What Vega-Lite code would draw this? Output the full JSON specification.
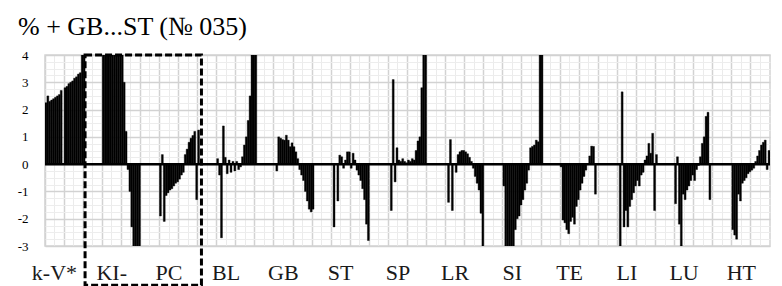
{
  "$schema": "https://vega.github.io/schema/vega-lite/v6.json",
  "width": 725,
  "height": 191,
  "autosize": {"type": "none"},
  "padding": {"left": 45, "top": 55, "right": 12, "bottom": 40},
  "background": "white",
  "title": {"text": "% + GB...ST (№ 035)", "anchor": "start", "frame": "group", "font": "Liberation Serif", "fontSize": 26, "fontWeight": "normal", "color": "black", "dx": -27, "offset": 9},
  "config": {"font": "Liberation Serif", "view": {"stroke": "#d4d4d4", "strokeWidth": 1.5}, "axis": {"domain": false, "ticks": false, "labelOverlap": false}},
  "resolve": {"axis": {"y": "independent"}},
  "data": {"values": [
{"i":0,"v":2.25},{"i":1,"v":2.5},{"i":2,"v":2.3},{"i":3,"v":2.35},{"i":4,"v":2.4},{"i":5,"v":2.45},{"i":6,"v":2.5},{"i":7,"v":2.55},{"i":8,"v":2.7},{"i":9,"v":0},
{"i":10,"v":2.8},{"i":11,"v":2.85},{"i":12,"v":2.95},{"i":13,"v":3.0},{"i":14,"v":3.05},{"i":15,"v":3.15},{"i":16,"v":3.2},{"i":17,"v":3.3},{"i":18,"v":3.35},{"i":19,"v":4.5},
{"i":20,"v":4.5},{"i":21,"v":0},{"i":22,"v":0},{"i":23,"v":0},{"i":24,"v":0},{"i":25,"v":0},{"i":26,"v":0},{"i":27,"v":0},{"i":28,"v":0},{"i":29,"v":0},
{"i":30,"v":4.5},{"i":31,"v":4.5},{"i":32,"v":4.5},{"i":33,"v":4.5},{"i":34,"v":4.5},{"i":35,"v":4.5},{"i":36,"v":4.5},{"i":37,"v":4.5},{"i":38,"v":4.5},{"i":39,"v":4.5},
{"i":40,"v":4.5},{"i":41,"v":3.0},{"i":42,"v":1.2},{"i":43,"v":-0.2},{"i":44,"v":-1.0},{"i":45,"v":-2.3},{"i":46,"v":-3.2},{"i":47,"v":-3.2},{"i":48,"v":-3.2},{"i":49,"v":-3.2},
{"i":50,"v":0},{"i":51,"v":0},{"i":52,"v":0},{"i":53,"v":0},{"i":54,"v":0},{"i":55,"v":0},{"i":56,"v":0},{"i":57,"v":0},{"i":58,"v":0},{"i":59,"v":0},
{"i":60,"v":-1.9},{"i":61,"v":0.35},{"i":62,"v":-2.1},{"i":63,"v":-1.15},{"i":64,"v":-1.05},{"i":65,"v":-0.95},{"i":66,"v":-0.9},{"i":67,"v":-0.8},{"i":68,"v":-0.7},{"i":69,"v":-0.65},
{"i":70,"v":-0.55},{"i":71,"v":-0.4},{"i":72,"v":-0.3},{"i":73,"v":0.35},{"i":74,"v":0.55},{"i":75,"v":0.8},{"i":76,"v":0.95},{"i":77,"v":1.05},{"i":78,"v":1.2},{"i":79,"v":-1.3},
{"i":80,"v":1.25},{"i":81,"v":0},{"i":82,"v":0},{"i":83,"v":0},{"i":84,"v":0},{"i":85,"v":0},{"i":86,"v":0},{"i":87,"v":0},{"i":88,"v":0},{"i":89,"v":0},
{"i":90,"v":0.2},{"i":91,"v":-0.4},{"i":92,"v":-2.7},{"i":93,"v":1.4},{"i":94,"v":0.25},{"i":95,"v":-0.35},{"i":96,"v":0.15},{"i":97,"v":-0.3},{"i":98,"v":0.1},{"i":99,"v":-0.25},
{"i":100,"v":0.1},{"i":101,"v":-0.2},{"i":102,"v":-0.1},{"i":103,"v":0.27},{"i":104,"v":0.7},{"i":105,"v":1.0},{"i":106,"v":1.6},{"i":107,"v":2.5},{"i":108,"v":4.5},{"i":109,"v":4.5},
{"i":110,"v":4.5},{"i":111,"v":0},{"i":112,"v":0},{"i":113,"v":0},{"i":114,"v":0},{"i":115,"v":0},{"i":116,"v":0},{"i":117,"v":0},{"i":118,"v":0},{"i":119,"v":0},
{"i":120,"v":0},{"i":121,"v":-0.25},{"i":122,"v":1.0},{"i":123,"v":0.95},{"i":124,"v":0.9},{"i":125,"v":0.88},{"i":126,"v":1.06},{"i":127,"v":0.88},{"i":128,"v":0.64},{"i":129,"v":0.78},
{"i":130,"v":0.64},{"i":131,"v":0.45},{"i":132,"v":0.2},{"i":133,"v":-0.2},{"i":134,"v":-0.4},{"i":135,"v":-0.6},{"i":136,"v":-1.0},{"i":137,"v":-1.35},{"i":138,"v":-1.65},{"i":139,"v":-1.75},
{"i":140,"v":-1.65},{"i":141,"v":0},{"i":142,"v":0},{"i":143,"v":0},{"i":144,"v":0},{"i":145,"v":0},{"i":146,"v":0},{"i":147,"v":0},{"i":148,"v":0},{"i":149,"v":0},
{"i":150,"v":0},{"i":151,"v":-2.3},{"i":152,"v":0},{"i":153,"v":-1.35},{"i":154,"v":0.33},{"i":155,"v":0.27},{"i":156,"v":-0.15},{"i":157,"v":0.15},{"i":158,"v":0.45},{"i":159,"v":0.45},
{"i":160,"v":-0.15},{"i":161,"v":0.4},{"i":162,"v":0.15},{"i":163,"v":-0.22},{"i":164,"v":-0.4},{"i":165,"v":-0.6},{"i":166,"v":-0.9},{"i":167,"v":-1.3},{"i":168,"v":-2.2},{"i":169,"v":-2.8},
{"i":170,"v":0},{"i":171,"v":0},{"i":172,"v":0},{"i":173,"v":0},{"i":174,"v":0},{"i":175,"v":0},{"i":176,"v":0},{"i":177,"v":0},{"i":178,"v":0},{"i":179,"v":0},
{"i":180,"v":0},{"i":181,"v":-1.7},{"i":182,"v":3.1},{"i":183,"v":-0.65},{"i":184,"v":0.6},{"i":185,"v":0.15},{"i":186,"v":0.1},{"i":187,"v":0.2},{"i":188,"v":0.1},{"i":189,"v":0.05},
{"i":190,"v":0.15},{"i":191,"v":0.1},{"i":192,"v":0.2},{"i":193,"v":0.15},{"i":194,"v":0.5},{"i":195,"v":0.85},{"i":196,"v":1.0},{"i":197,"v":2.8},{"i":198,"v":4.5},{"i":199,"v":4.5},
{"i":200,"v":0},{"i":201,"v":0},{"i":202,"v":0},{"i":203,"v":0},{"i":204,"v":0},{"i":205,"v":0},{"i":206,"v":0},{"i":207,"v":0},{"i":208,"v":0},{"i":209,"v":0},
{"i":210,"v":0},{"i":211,"v":-1.4},{"i":212,"v":0.9},{"i":213,"v":-1.7},{"i":214,"v":0},{"i":215,"v":-0.3},{"i":216,"v":0.35},{"i":217,"v":0.45},{"i":218,"v":0.5},{"i":219,"v":0.5},
{"i":220,"v":0.45},{"i":221,"v":0.38},{"i":222,"v":0.25},{"i":223,"v":0.1},{"i":224,"v":-0.15},{"i":225,"v":-0.45},{"i":226,"v":-0.7},{"i":227,"v":-0.95},{"i":228,"v":-1.8},{"i":229,"v":-3.1},
{"i":230,"v":0},{"i":231,"v":0},{"i":232,"v":0},{"i":233,"v":0},{"i":234,"v":0},{"i":235,"v":0},{"i":236,"v":0},{"i":237,"v":0},{"i":238,"v":0},{"i":239,"v":0},
{"i":240,"v":-0.8},{"i":241,"v":-3.2},{"i":242,"v":-3.2},{"i":243,"v":-3.2},{"i":244,"v":-3.2},{"i":245,"v":-3.2},{"i":246,"v":-2.4},{"i":247,"v":-2.0},{"i":248,"v":-1.9},{"i":249,"v":-1.5},
{"i":250,"v":-1.3},{"i":251,"v":-0.95},{"i":252,"v":-0.7},{"i":253,"v":-0.22},{"i":254,"v":0.6},{"i":255,"v":0.65},{"i":256,"v":0.7},{"i":257,"v":0.88},{"i":258,"v":0.82},{"i":259,"v":4.5},
{"i":260,"v":4.5},{"i":261,"v":0},{"i":262,"v":0},{"i":263,"v":0},{"i":264,"v":0},{"i":265,"v":0},{"i":266,"v":0},{"i":267,"v":0},{"i":268,"v":0},{"i":269,"v":0},
{"i":270,"v":-0.1},{"i":271,"v":-2.05},{"i":272,"v":-2.15},{"i":273,"v":-2.4},{"i":274,"v":-2.55},{"i":275,"v":-2.1},{"i":276,"v":-1.95},{"i":277,"v":-2.2},{"i":278,"v":-1.55},{"i":279,"v":-1.3},
{"i":280,"v":-0.95},{"i":281,"v":-0.7},{"i":282,"v":-0.45},{"i":283,"v":-0.22},{"i":284,"v":0},{"i":285,"v":0.3},{"i":286,"v":0.66},{"i":287,"v":0.65},{"i":288,"v":-1.1},{"i":289,"v":0},
{"i":290,"v":0},{"i":291,"v":0},{"i":292,"v":0},{"i":293,"v":0},{"i":294,"v":0},{"i":295,"v":0},{"i":296,"v":0},{"i":297,"v":0},{"i":298,"v":0},{"i":299,"v":0},
{"i":300,"v":0},{"i":301,"v":-3.2},{"i":302,"v":2.65},{"i":303,"v":-2.3},{"i":304,"v":-1.7},{"i":305,"v":-2.3},{"i":306,"v":-1.55},{"i":307,"v":-1.3},{"i":308,"v":-1.05},{"i":309,"v":-0.8},
{"i":310,"v":-0.6},{"i":311,"v":-0.8},{"i":312,"v":-0.4},{"i":313,"v":-0.3},{"i":314,"v":0.15},{"i":315,"v":0.3},{"i":316,"v":0.76},{"i":317,"v":0.4},{"i":318,"v":1.13},{"i":319,"v":-1.7},
{"i":320,"v":0.35},{"i":321,"v":0},{"i":322,"v":0},{"i":323,"v":0},{"i":324,"v":0},{"i":325,"v":0},{"i":326,"v":0},{"i":327,"v":0},{"i":328,"v":0},{"i":329,"v":0},
{"i":330,"v":-1.45},{"i":331,"v":0.27},{"i":332,"v":-2.2},{"i":333,"v":-3.0},{"i":334,"v":-1.1},{"i":335,"v":-1.3},{"i":336,"v":-0.95},{"i":337,"v":-0.8},{"i":338,"v":-0.6},{"i":339,"v":-0.4},
{"i":340,"v":-0.6},{"i":341,"v":-0.2},{"i":342,"v":-0.05},{"i":343,"v":0.27},{"i":344,"v":0.76},{"i":345,"v":1.0},{"i":346,"v":1.75},{"i":347,"v":1.9},{"i":348,"v":-1.3},{"i":349,"v":0},
{"i":350,"v":0},{"i":351,"v":0},{"i":352,"v":0},{"i":353,"v":0},{"i":354,"v":0},{"i":355,"v":0},{"i":356,"v":0},{"i":357,"v":0},{"i":358,"v":0},{"i":359,"v":0},
{"i":360,"v":-2.4},{"i":361,"v":-2.6},{"i":362,"v":-2.75},{"i":363,"v":-1.1},{"i":364,"v":-1.35},{"i":365,"v":-0.7},{"i":366,"v":-0.6},{"i":367,"v":-0.5},{"i":368,"v":-0.35},{"i":369,"v":-0.28},
{"i":370,"v":-0.22},{"i":371,"v":-0.15},{"i":372,"v":0.1},{"i":373,"v":0.3},{"i":374,"v":0.5},{"i":375,"v":0.7},{"i":376,"v":0.8},{"i":377,"v":0.88},{"i":378,"v":-0.2},{"i":379,"v":0.5}
  ]},
  "layer": [
    {
      "data": {"values": [{}]},
      "mark": {"type": "rule", "opacity": 0},
      "encoding": {
        "y": {"datum": 0, "scale": {"domain": [-3, 4], "nice": false, "zero": false},
          "axis": {
            "orient": "left",
            "title": null,
            "values": [-2.75,-2.5,-2.25,-1.75,-1.5,-1.25,-0.75,-0.5,-0.25,0.25,0.5,0.75,1.25,1.5,1.75,2.25,2.5,2.75,3.25,3.5,3.75],
            "grid": true,
            "gridColor": "#ededed",
            "gridWidth": 1,
            "labels": false
          }
        }
      }
    },
    {
      "mark": {"type": "bar", "color": "black", "stroke": "black", "strokeWidth": 0.4, "clip": true},
      "encoding": {
        "x": {"field": "i", "type": "ordinal", "title": null,
          "scale": {"paddingInner": 0, "paddingOuter": 0},
          "axis": {
            "values": [0,5,10,15,20,25,30,35,40,45,50,55,60,65,70,75,80,85,90,95,100,105,110,115,120,125,130,135,140,145,150,155,160,165,170,175,180,185,190,195,200,205,210,215,220,225,230,235,240,245,250,255,260,265,270,275,280,285,290,295,300,305,310,315,320,325,330,335,340,345,350,355,360,365,370,375],
            "bandPosition": 0,
            "grid": true,
            "gridColor": {"condition": {"test": "datum.value % 10 === 0", "value": "#d2d2d2"}, "value": "#ebebeb"},
            "gridWidth": {"condition": {"test": "datum.value % 10 === 0", "value": 1.5}, "value": 1},
            "labelAngle": 0,
            "labelOverlap": false,
            "labelExpr": "datum.value % 30 === 0 ? ['k-V*','KI-','PC','BL','GB','ST','SP','LR','SI','TE','LI','LU','HT'][datum.value / 30] : ''",
            "labelFont": "Liberation Serif",
            "labelFontSize": 22,
            "labelColor": "#1a1a1a",
            "labelOffset": 8.5,
            "labelPadding": 16
          }
        },
        "y": {"field": "v", "type": "quantitative", "title": null,
          "axis": {
            "orient": "left",
            "values": [-3,-2,-1,0,1,2,3,4],
            "grid": true,
            "gridColor": "#d2d2d2",
            "gridWidth": 1.5,
            "labelOverlap": false,
            "labelFont": "Liberation Serif",
            "labelFontSize": 13,
            "labelColor": "black",
            "labelPadding": 17,
            "labelExpr": "'' + datum.value"
          }
        }
      }
    },
    {
      "data": {"values": [{}]},
      "mark": {"type": "rule", "color": "black", "strokeWidth": 2.5},
      "encoding": {"y": {"datum": 0, "axis": null}}
    },
    {
      "data": {"values": [{}]},
      "mark": {"type": "rect", "fill": null, "fillOpacity": 0, "stroke": "black", "strokeWidth": 3, "strokeDash": [7, 3], "clip": false},
      "encoding": {
        "x": {"datum": 21, "type": "ordinal", "bandPosition": 0},
        "x2": {"datum": 82, "bandPosition": 0},
        "y": {"datum": 4, "axis": null},
        "y2": {"datum": -4.44}
      }
    }
  ]
}
